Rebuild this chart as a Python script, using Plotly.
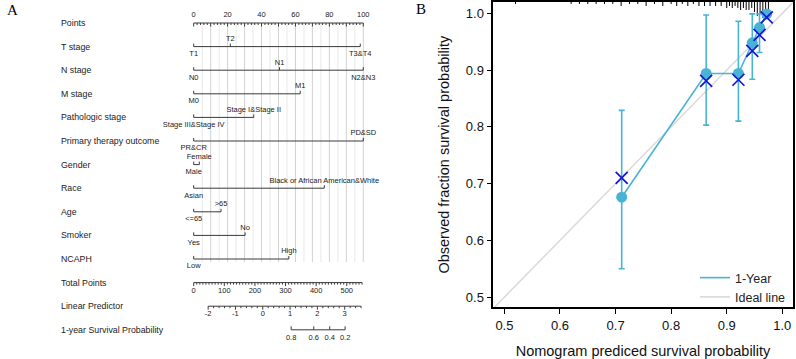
import math
import plotly.graph_objects as go

# ---------------- Panel A: nomogram data ----------------
row_names = ["Points", "T stage", "N stage", "M stage", "Pathologic stage",
             "Primary therapy outcome", "Gender", "Race", "Age", "Smoker", "NCAPH",
             "Total Points", "Linear Predictor", "1-year Survival Probability"]

t_stage_levels = ["T1", "T2", "T3&T4"]
t_stage_points = [0, 21.6, 98.2]
n_stage_levels = ["N0", "N1", "N2&N3"]
n_stage_points = [0, 50.6, 100]
m_stage_levels = ["M0", "M1"]
m_stage_points = [0, 62.8]
path_stage_levels = ["Stage III&Stage IV", "Stage I&Stage II"]
path_stage_points = [0, 35.4]
therapy_levels = ["PR&CR", "PD&SD"]
therapy_points = [0, 100]
gender_levels = ["Male", "Female"]
gender_points = [0, 3.3]
race_levels = ["Asian", "Black or African American&White"]
race_points = [0, 77.0]
age_levels = ["<=65", ">65"]
age_points = [0, 16.1]
smoker_levels = ["Yes", "No"]
smoker_points = [0, 30.3]
ncaph_levels = ["Low", "High"]
ncaph_points = [0, 56.1]

points_labels = [0, 20, 40, 60, 80, 100]
total_points_labels = [0, 100, 200, 300, 400, 500]
lp_labels = [-2, -1, 0, 1, 2, 3]
surv_labels = [0.8, 0.6, 0.4, 0.2]

# scale relations of the nomogram
total_points_at_100 = 554.0     # total points matching 100 on the Points scale
total_points_max = 550
lp_zero_total = 225.6           # total points where linear predictor = 0
total_per_lp = 89.2             # total points per unit of linear predictor
lp_min, lp_max = -2.0, 3.6
surv_shift = 2.54               # lp = log(-log(S)) + shift

# ---------------- Panel B: calibration data ----------------
cal_pred = [0.711, 0.863, 0.921, 0.946, 0.959, 0.972]
cal_obs = [0.676, 0.894, 0.894, 0.948, 0.975, 0.999]
cal_lo = [0.550, 0.803, 0.810, 0.884, 0.931, 0.999]
cal_hi = [0.829, 0.997, 0.986, 0.999, 0.999, 0.999]
cal_corrected = [0.710, 0.881, 0.883, 0.934, 0.962, 0.993]

rug_pred = [0.52, 0.62, 0.635, 0.65, 0.665, 0.68, 0.695, 0.71, 0.725, 0.74, 0.755,
            0.77, 0.785, 0.80, 0.81, 0.82, 0.83, 0.84, 0.85, 0.86, 0.87, 0.88,
            0.89, 0.90, 0.905, 0.91, 0.915, 0.92, 0.925, 0.93, 0.935, 0.94,
            0.945, 0.95, 0.955, 0.96, 0.965, 0.97, 0.975]
rug_count = [1, 1, 1, 1, 1, 1, 1, 2, 1, 1, 2, 1, 2, 1, 2, 1, 2, 1, 2, 2, 2, 2,
             2, 3, 2, 3, 2, 3, 4, 3, 4, 4, 3, 5, 7, 6, 8, 7, 4]

# ---------------- layout constants ----------------
W, H = 796, 359
PX0, PX_PER_PT = 193.7, 1.696
ROW0, ROW_H = 23.0, 23.6
LINE = "#3a3a3a"
GRID_MAJ = "#d2d2d2"
GRID_MIN = "#e8e8e8"
CYAN = "#47b4d6"
BLUE = "#1515d6"
IDEAL = "#dadada"
SANS = "Arial, Liberation Sans, sans-serif"
SERIF = "Times New Roman, Liberation Serif, serif"


def px_rows(px):
    return px / ROW_H


def tp_to_pts(tp):
    return tp * 100.0 / total_points_at_100


def lp_to_pts(lp):
    return tp_to_pts(lp_zero_total + lp * total_per_lp)


def surv_to_pts(s):
    return lp_to_pts(math.log(-math.log(s)) + surv_shift)


def frange(a, b, step):
    out, v = [], a
    while v <= b + 1e-9:
        out.append(round(v, 6))
        v += step
    return out


fig = go.Figure()


def seg_trace(segs, color, width, xa="x", ya="y"):
    xs, ys = [], []
    for x0, y0, x1, y1 in segs:
        xs += [x0, x1, None]
        ys += [y0, y1, None]
    fig.add_trace(go.Scatter(x=xs, y=ys, mode="lines", xaxis=xa, yaxis=ya,
                             line=dict(color=color, width=width),
                             hoverinfo="skip", showlegend=False))


def text_trace(xs, ys, texts, size=7.5):
    fig.add_trace(go.Scatter(x=xs, y=ys, text=texts, mode="text", xaxis="x", yaxis="y",
                             textposition="middle center", cliponaxis=False,
                             textfont=dict(family=SANS, size=size, color="#222222"),
                             hoverinfo="skip", showlegend=False))


# grid lines (every 5 points)
grid_bottom = 10 + px_rows(3)
seg_trace([(v, 0, v, grid_bottom) for v in frange(5, 95, 10)], GRID_MIN, 1)
seg_trace([(v, 0, v, grid_bottom) for v in frange(10, 100, 10)], GRID_MAJ, 1)

tick_s, tick_l = px_rows(2), px_rows(3.5)
lab_up, lab_dn = px_rows(7.5), px_rows(7.5)

# Points scale (row 0)
segs = [(0, 0, 100, 0)]
for v in frange(0, 100, 2):
    segs.append((v, 0, v, tick_l if v % 10 == 0 else tick_s))
seg_trace(segs, LINE, 1)
text_trace(points_labels, [0 - lab_up] * len(points_labels), [str(v) for v in points_labels])

# variable rows
variables = [
    (t_stage_levels, t_stage_points),
    (n_stage_levels, n_stage_points),
    (m_stage_levels, m_stage_points),
    (path_stage_levels, path_stage_points),
    (therapy_levels, therapy_points),
    (gender_levels, gender_points),
    (race_levels, race_points),
    (age_levels, age_points),
    (smoker_levels, smoker_points),
    (ncaph_levels, ncaph_points),
]
segs = []
lx, ly, lt = [], [], []
for i, (levels, pts) in enumerate(variables):
    r = i + 1
    segs.append((min(pts), r, max(pts), r))
    for j, (lev, p) in enumerate(zip(levels, pts)):
        segs.append((p, r, p, r - px_rows(3)))
        lx.append(p)
        ly.append(r - lab_up if j % 2 == 1 else r + lab_dn)
        lt.append(lev)
seg_trace(segs, LINE, 1)
text_trace(lx, ly, lt)

# Total points (row 11)
r = 11
segs = [(tp_to_pts(0), r, tp_to_pts(total_points_max), r)]
for v in frange(0, total_points_max, 10):
    segs.append((tp_to_pts(v), r, tp_to_pts(v), r + (tick_l if v % 100 == 0 else tick_s)))
seg_trace(segs, LINE, 1)
text_trace([tp_to_pts(v) for v in total_points_labels], [r + px_rows(9)] * 6,
           [str(v) for v in total_points_labels])

# Linear predictor (row 12)
r = 12
segs = [(lp_to_pts(lp_min), r, lp_to_pts(lp_max), r)]
for v in frange(lp_min, lp_max, 0.2):
    big = abs(v - round(v)) < 1e-6
    segs.append((lp_to_pts(v), r, lp_to_pts(v), r + (tick_l if big else tick_s)))
seg_trace(segs, LINE, 1)
text_trace([lp_to_pts(v) for v in lp_labels], [r + px_rows(8)] * len(lp_labels),
           [str(v) for v in lp_labels])

# Survival probability (row 13)
r = 13
segs = [(surv_to_pts(max(surv_labels)), r, surv_to_pts(min(surv_labels)), r)]
for v in surv_labels:
    segs.append((surv_to_pts(v), r, surv_to_pts(v), r - tick_l))
seg_trace(segs, LINE, 1)
text_trace([surv_to_pts(v) for v in surv_labels], [r + px_rows(8)] * len(surv_labels),
           [f"{v:.1f}" for v in surv_labels])

annotations = []
for i, name in enumerate(row_names):
    annotations.append(dict(x=(59 - PX0) / PX_PER_PT, y=i, xref="x", yref="y",
                            text=name, showarrow=False, xanchor="left", yanchor="middle",
                            font=dict(family=SANS, size=8.8, color="#222222")))

# ---------------- Panel B ----------------
fig.add_trace(go.Scatter(x=[0.4, 1.1], y=[0.4, 1.1], mode="lines", xaxis="x2", yaxis="y2",
                         line=dict(color=IDEAL, width=1.5), name="Ideal line",
                         hoverinfo="skip", showlegend=False))

# rug of predicted probabilities at the top
ytop = 1.02
rug_unit = 0.1 / 56.9 * 2.0
xs, ys = [], []
for p, c in zip(rug_pred, rug_count):
    xs += [p, p, None]
    ys += [ytop, ytop - c * rug_unit, None]
fig.add_trace(go.Scatter(x=xs, y=ys, mode="lines", xaxis="x2", yaxis="y2",
                         line=dict(color="black", width=1), hoverinfo="skip",
                         showlegend=False, cliponaxis=True))

fig.add_trace(go.Scatter(
    x=cal_pred, y=cal_obs, mode="lines+markers", xaxis="x2", yaxis="y2",
    line=dict(color=CYAN, width=1.6),
    marker=dict(color=CYAN, size=11, symbol="circle"),
    error_y=dict(type="data", symmetric=False,
                 array=[h - o for h, o in zip(cal_hi, cal_obs)],
                 arrayminus=[o - l for o, l in zip(cal_obs, cal_lo)],
                 color=CYAN, thickness=1.6, width=3),
    showlegend=False, cliponaxis=False))

fig.add_trace(go.Scatter(
    x=cal_pred, y=cal_corrected, mode="markers", xaxis="x2", yaxis="y2",
    marker=dict(symbol="x-thin", size=12, line=dict(color=BLUE, width=1.7)),
    showlegend=False, cliponaxis=False))

# legend entries
fig.add_trace(go.Scatter(x=[None], y=[None], mode="lines", xaxis="x2", yaxis="y2",
                         line=dict(color=CYAN, width=1.6), name="1-Year"))
fig.add_trace(go.Scatter(x=[None], y=[None], mode="lines", xaxis="x2", yaxis="y2",
                         line=dict(color=IDEAL, width=1.6), name="Ideal line"))

annotations.append(dict(x=12 / W, y=1 - 10 / H, xref="paper", yref="paper", text="A",
                        showarrow=False, xanchor="center", yanchor="middle",
                        font=dict(family=SERIF, size=15, color="black")))
annotations.append(dict(x=421 / W, y=1 - 9 / H, xref="paper", yref="paper", text="B",
                        showarrow=False, xanchor="center", yanchor="middle",
                        font=dict(family=SERIF, size=15, color="black")))

fig.update_layout(
    width=W, height=H, margin=dict(l=0, r=0, t=0, b=0),
    paper_bgcolor="white", plot_bgcolor="white",
    showlegend=True,
    legend=dict(x=695 / W, y=1 - 263 / H, xanchor="left", yanchor="top",
                bgcolor="rgba(0,0,0,0)", font=dict(family=SANS, size=12.5, color="#222222"),
                tracegroupgap=0),
    xaxis=dict(domain=[0, 400 / W], range=[-PX0 / PX_PER_PT, (400 - PX0) / PX_PER_PT],
               visible=False, fixedrange=True),
    yaxis=dict(domain=[0, 1], range=[(H - ROW0) / ROW_H, -ROW0 / ROW_H],
               visible=False, fixedrange=True),
    xaxis2=dict(domain=[493.3 / W, 792.7 / W], range=[0.48, 1.0187], anchor="y2",
                tickvals=[0.5, 0.6, 0.7, 0.8, 0.9, 1.0], tickformat=".1f",
                ticks="outside", ticklen=5, tickwidth=1.2, tickcolor="black",
                showline=True, linecolor="black", linewidth=1.6, mirror=True,
                showgrid=False, zeroline=False, automargin=False,
                tickfont=dict(family=SANS, size=13, color="#111111"),
                title=dict(text="Nomogram prediced survival probability", standoff=14,
                           font=dict(family=SANS, size=14.5, color="#111111"))),
    yaxis2=dict(domain=[(H - 307.3) / H, (H - 2) / H], range=[0.482, 1.02], anchor="x2",
                tickvals=[0.5, 0.6, 0.7, 0.8, 0.9, 1.0], tickformat=".1f",
                ticks="outside", ticklen=5, tickwidth=1.2, tickcolor="black",
                showline=True, linecolor="black", linewidth=1.6, mirror=True,
                showgrid=False, zeroline=False, automargin=False,
                tickfont=dict(family=SANS, size=13, color="#111111"),
                title=dict(text="Observed fraction survival probability", standoff=13,
                           font=dict(family=SANS, size=14.5, color="#111111"))),
    annotations=annotations,
)

fig.write_html("out.html", config={"displayModeBar": False},
               post_script="document.body.style.margin='0';document.body.style.overflow='hidden';")
